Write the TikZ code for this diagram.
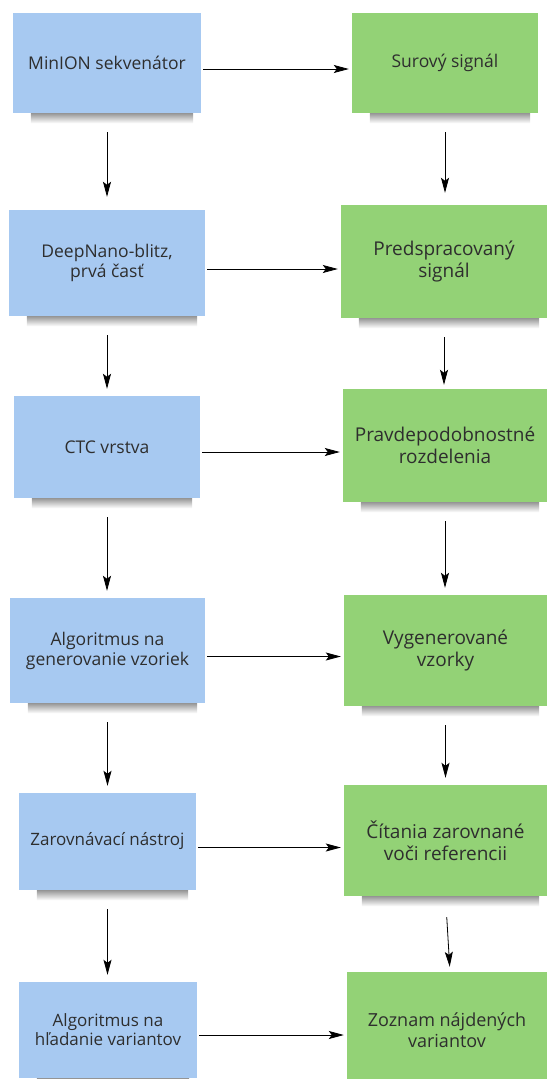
\documentclass[tikz,border=0pt]{standalone}
\usepackage{fontspec}
\setmainfont{Open Sans}
\usetikzlibrary{arrows.meta,backgrounds}
\definecolor{noteblue}{HTML}{A7C9F1}
\definecolor{notegreen}{HTML}{93D276}
\definecolor{notetext}{HTML}{2E2E2E}

\begin{document}
\begin{tikzpicture}[x=1pt,y=-1pt,
  note/.style={rectangle, text=notetext, align=center, inner sep=0pt},
  bluenote/.style={note, fill=noteblue, font=\fontsize{17.5}{20}\selectfont},
  greennote/.style={note, fill=notegreen, font=\fontsize{19}{21.5}\selectfont},
  flow/.style={-{Stealth[length=15pt,width=8pt,inset=3pt]}, line width=0.8pt},
  sideflow/.style={flow, shorten <=2pt, shorten >=3pt},
  downflow/.style={flow, shorten <=19pt, shorten >=7pt}]
\useasboundingbox (0,0) rectangle (547,1079);
% left column
\node[bluenote, minimum width=188pt, minimum height=100pt] (b1) at (107,63) {MinION sekvenátor};
\node[bluenote, minimum width=196pt, minimum height=106pt] (b2) at (107,263) {DeepNano-blitz,\\prvá časť};
\node[bluenote, minimum width=186pt, minimum height=102pt] (b3) at (107,447) {CTC vrstva};
\node[bluenote, minimum width=195pt, minimum height=105pt] (b4) at (107.5,650.5) {Algoritmus na\\generovanie vzoriek};
\node[bluenote, minimum width=177pt, minimum height=97pt, font=\fontsize{17}{20}\selectfont] (b5) at (107.5,841.5) {Zarovnávací nástroj};
\node[bluenote, minimum width=178pt, minimum height=96pt, font=\fontsize{17}{19}\selectfont] (b6) at (108,1030) {Algoritmus na\\hľadanie variantov};
% right column
\node[greennote, minimum width=186pt, minimum height=100pt, font=\fontsize{17.5}{20}\selectfont] (g1) at (445,63) {Surový signál};
\node[greennote, minimum width=206pt, minimum height=113pt] (g2) at (444,261.5) {Predspracovaný\\signál};
\node[greennote, minimum width=204pt, minimum height=113pt] (g3) at (445,445.5) {Pravdepodobnostné\\rozdelenia};
\node[greennote, minimum width=203pt, minimum height=111pt] (g4) at (445.5,650.5) {Vygenerované\\vzorky};
\node[greennote, minimum width=203pt, minimum height=111pt] (g5) at (445.5,840.5) {Čítania zarovnané\\voči referencii};
\node[greennote, minimum width=200pt, minimum height=116pt, font=\fontsize{18}{21.5}\selectfont] (g6) at (447,1030) {Zoznam nájdených\\variantov};
% shadows under the notes
\begin{scope}[on background layer]
\foreach \n in {b1,b2,b3,b4,b5,b6,g1,g2,g3,g4,g5,g6}
  \shade[top color=black!45, bottom color=white] ([xshift=18pt,yshift=1pt]\n.south west) rectangle ([xshift=-8pt,yshift=-10pt]\n.south east);
\end{scope}
% across
\draw[sideflow] ([yshift=-6pt]b1.east) -- ([yshift=-6pt]b1.east -| g1.west);
\draw[sideflow] ([yshift=-6pt]b2.east) -- ([yshift=-6pt]b2.east -| g2.west);
\draw[sideflow] ([yshift=-5pt]b3.east) -- ([yshift=-5pt]b3.east -| g3.west);
\draw[sideflow] ([yshift=-6pt]b4.east) -- ([yshift=-6pt]b4.east -| g4.west);
\draw[sideflow] ([yshift=-6pt]b5.east) -- ([yshift=-6pt]b5.east -| g5.west);
\draw[sideflow] ([yshift=-5pt]b6.east) -- ([yshift=-5pt]b6.east -| g6.west);
% down, left
\draw[downflow, shorten >=13pt] (b1.south) -- (b1.south |- b2.north);
\draw[downflow] (b2.south) -- (b2.south |- b3.north);
\draw[downflow] (b3.south) -- (b3.south |- b4.north);
\draw[downflow] (b4.south) -- (b4.south |- b5.north);
\draw[downflow] (b5.south) -- (b5.south |- b6.north);
% down, right
\draw[downflow, shorten >=12pt] (g1.south) -- (g1.south |- g2.north);
\draw[downflow, shorten >=4pt] (g2.south) -- (g2.south |- g3.north);
\draw[downflow] (g3.south) -- (g3.south |- g4.north);
\draw[downflow] (g4.south) -- (g4.south |- g5.north);
\draw[downflow, shorten <=21pt, shorten >=5pt] (g5.south) -- ([xshift=3pt]g6.north); % slightly slanted
\end{tikzpicture}
\end{document}
